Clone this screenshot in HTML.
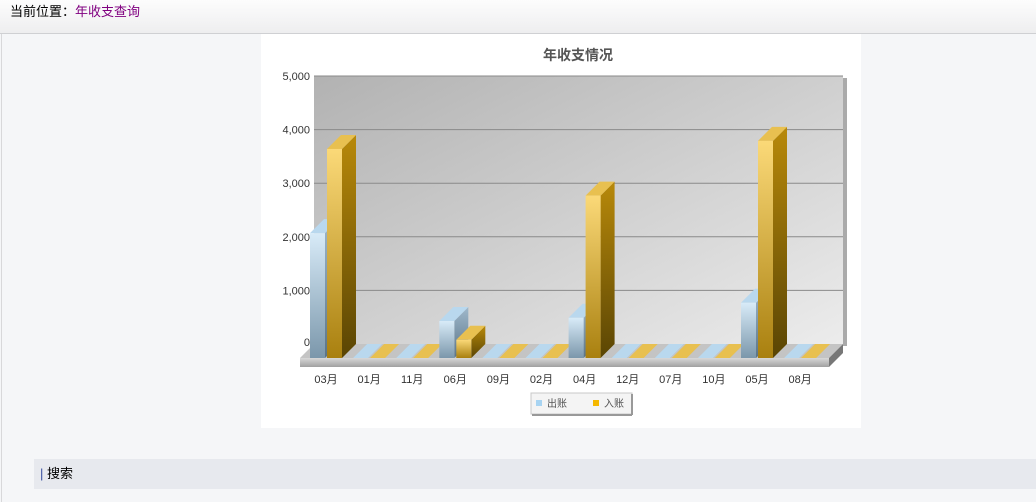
<!DOCTYPE html>
<html><head><meta charset="utf-8">
<style>
body{margin:0;width:1036px;height:502px;background:#f5f6f8;font-family:"Liberation Sans","Noto Sans CJK SC",sans-serif;position:relative;overflow:hidden}
#hdr{position:absolute;left:0;top:0;width:1036px;height:33px;background:linear-gradient(#fdfdfd,#eeeeef);border-bottom:1px solid #cfd0d3;font-size:13px;line-height:24px}
#hdr span{position:absolute;left:10px;top:0px}
#lb{position:absolute;left:1px;top:34px;width:1px;height:468px;background:#d8d8da}
#panel{position:absolute;left:261px;top:34px;width:600px;height:394px;background:#fff}
#search{position:absolute;left:34px;top:459px;width:1002px;height:30px;background:#e7e9ee;font-size:13px;line-height:30px}
</style></head><body>
<div id="hdr"><span>当前位置：<a style="color:#800080;text-decoration:none">年收支查询</a></span></div>
<div id="lb"></div>
<div id="panel"></div>
<svg id="chart" width="1036" height="502" style="position:absolute;left:0;top:0" xmlns="http://www.w3.org/2000/svg">
<defs>
<linearGradient id="wall" x1="0" y1="0" x2="1" y2="1"><stop offset="0" stop-color="#b2b2b2"/><stop offset="1" stop-color="#ececec"/></linearGradient>
<linearGradient id="bF" x1="0" y1="0" x2="0" y2="1"><stop offset="0" stop-color="#d8ebf8"/><stop offset="1" stop-color="#7b97ab"/></linearGradient>
<linearGradient id="gF" x1="0" y1="0" x2="0" y2="1"><stop offset="0" stop-color="#fbd978"/><stop offset="1" stop-color="#a9800f"/></linearGradient>
<linearGradient id="bS" x1="0" y1="0" x2="0" y2="1"><stop offset="0" stop-color="#9fb8cb"/><stop offset="1" stop-color="#5a7488"/></linearGradient>
<linearGradient id="gS" x1="0" y1="0" x2="0" y2="1"><stop offset="0" stop-color="#b8890a"/><stop offset="1" stop-color="#5a4504"/></linearGradient>
<linearGradient id="slab" x1="0" y1="0" x2="0" y2="1"><stop offset="0" stop-color="#d8d8d8"/><stop offset="1" stop-color="#a0a0a0"/></linearGradient>
</defs>
<text x="578" y="60" text-anchor="middle" font-size="14" font-weight="bold" fill="#555">年收支情况</text>
<g id="plot"></g>
<g>
<rect x="531" y="393" width="101" height="21" fill="#f4f4f4" stroke="#c8c8c8"/>
<line x1="632" y1="394" x2="632" y2="415" stroke="#999" stroke-width="2"/>
<line x1="532" y1="415" x2="632" y2="415" stroke="#999" stroke-width="2"/>
<rect x="536" y="400" width="6" height="6" fill="#a8d4f2"/>
<text x="547" y="407" font-size="10" fill="#555">出账</text>
<rect x="593" y="400" width="6" height="6" fill="#f5b800"/>
<text x="604" y="407" font-size="10" fill="#555">入账</text>
</g>
</svg>
<div id="search"><span style="color:#3a4fa0;margin-left:6px">|</span> 搜索</div>
<script>
const categories=["03月","01月","11月","06月","09月","02月","04月","12月","07月","10月","05月","08月"];
const outValues=[2330,0,0,690,0,0,750,0,0,0,1030,0];
const inValues=[3900,0,0,340,0,0,3030,0,0,0,4050,0];
const yTicks=[0,1000,2000,3000,4000,5000];
const tickLabels=["0","1,000","2,000","3,000","4,000","5,000"];
const NS="http://www.w3.org/2000/svg";
const g=document.getElementById('plot');
const D=14, zeroF=358, zeroB=344, pxPer=268/5000;
function yB(v){return zeroB-v*pxPer;}
function yF(v){return zeroF-v*pxPer;}
function xC(i){return 326+i*43.1;}
function mk(t,a,name,inter){const e=document.createElementNS(NS,t);for(const k in a)e.setAttribute(k,a[k]);


g.appendChild(e);return e;}
mk('rect',{x:314,y:yB(5000),width:529,height:zeroB-yB(5000),fill:'url(#wall)'},'back-wall');
mk('rect',{x:843,y:yB(5000)+2,width:4,height:zeroB-yB(5000),fill:'#aaa'},'wall-edge');
yTicks.forEach((v,i)=>{
  if(v>0)mk('line',{x1:314,x2:843,y1:yB(v),y2:yB(v),stroke:'#8a8a8a','stroke-width':1},'gridline');
  const t=mk('text',{x:310,y:yB(v)+(v===0?2:4),'text-anchor':'end','font-size':11,fill:'#333'},'y-tick-label');
  t.textContent=tickLabels[i];
});
mk('polygon',{points:`300,${zeroF} 314,${zeroB} 843,${zeroB} 829,${zeroF}`,fill:'#c4c4c4'},'floor-top');
mk('rect',{x:300,y:zeroF,width:529,height:9,fill:'url(#slab)'},'floor-front');
mk('polygon',{points:`829,${zeroF} 843,${zeroB} 843,${zeroB+9} 829,${zeroF+9}`,fill:'#777'},'floor-side');
function bar(x,v,front,side,top,name){
  const w=15, yt=yF(v);
  mk('polygon',{points:`${x+w},${yt} ${x+w+D},${yt-D} ${x+w+D},${zeroF-D} ${x+w},${zeroF}`,fill:side},name+'-side');
  mk('polygon',{points:`${x},${yt} ${x+D},${yt-D} ${x+w+D},${yt-D} ${x+w},${yt}`,fill:top},name+'-top');
  if(v>0)mk('rect',{x:x,y:yt,width:w,height:zeroF-yt,fill:front},name,'true');
}
categories.forEach((c,i)=>{
  const cx=xC(i);
  bar(cx-16,outValues[i],'url(#bF)','url(#bS)','#b9d8ee','bar-out-'+i);
  bar(cx+1,inValues[i],'url(#gF)','url(#gS)','#e8c050','bar-in-'+i);
  const t=mk('text',{x:cx,y:383,'text-anchor':'middle','font-size':11,fill:'#333'},'x-tick-label');
  t.textContent=c;
});
</script>
</body></html>
